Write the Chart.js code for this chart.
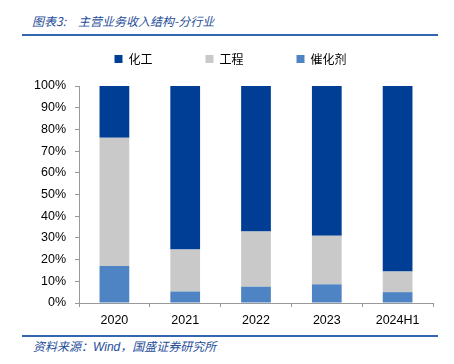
<!DOCTYPE html>
<html>
<head>
<meta charset="utf-8">
<script src="https://cdn.jsdelivr.net/npm/chart.js@4.4.1/dist/chart.umd.min.js"></script>
<style>
  body { margin: 0; width: 454px; height: 364px; background: #fff; position: relative; overflow: hidden; }
  .title { position: absolute; left: 32px; top: 12px; font: italic 12px "Noto Sans CJK SC", sans-serif; color: #1f4e99; white-space: pre; }
  .rule { position: absolute; left: 22px; width: 416px; background: #3366b0; }
  .source { position: absolute; left: 33px; top: 337px; font: italic 12px "Noto Sans CJK SC", sans-serif; color: #1f4e99; white-space: pre; }
  #wrap { position: absolute; left: 0; top: 0; width: 454px; height: 334px; }
</style>
</head>
<body>
<div class="title">图表3:<span style="margin-left:12px">主营业务收入结构-分行业</span></div>
<div class="rule" style="top:34px;height:2px;"></div>
<div id="wrap"><canvas id="chart"></canvas></div>
<div class="rule" style="top:335px;height:2px;"></div>
<div class="source">资料来源：<span style="font-family:'Liberation Sans'">Wind</span>，国盛证券研究所</div>
<script>
const years = ['2020', '2021', '2022', '2023', '2024H1'];
const chemical = [23.8, 75.3, 67.0, 69.0, 85.5];
const engineering = [59.2, 19.4, 25.5, 22.4, 9.5];
const catalyst = [17.0, 5.3, 7.5, 8.6, 5.0];

// nudge the legend so it sits where the original one does
const legendNudge = {
  id: 'legendNudge',
  beforeLayout(chart) {
    const legend = chart.legend;
    if (legend && !legend._nudged) {
      const fit = legend.fit;
      legend.fit = function () {
        fit.call(this);
        this.height += 11;
      };
      legend._nudged = true;
    }
  },
  afterLayout(chart) {
    chart.legend.left += 14;
    chart.legend.right += 14;
  }
};

const tickFont = { family: 'Liberation Sans', size: 12.5 };

new Chart(document.getElementById('chart'), {
  type: 'bar',
  data: {
    labels: years,
    datasets: [
      // stacked bottom to top
      { label: '催化剂', data: catalyst, backgroundColor: '#4f84c4' },
      { label: '工程', data: engineering, backgroundColor: '#c9c9c9' },
      { label: '化工', data: chemical, backgroundColor: '#003e95' }
    ]
  },
  options: {
    responsive: true,
    maintainAspectRatio: false,
    animation: false,
    layout: { padding: { left: 0, right: 21, top: 0, bottom: 0 } },
    datasets: { bar: { categoryPercentage: 0.42, barPercentage: 1 } },
    plugins: {
      legend: {
        reverse: true,
        labels: {
          boxWidth: 8,
          boxHeight: 8,
          padding: 53,
          color: '#000',
          font: { family: 'Noto Sans CJK SC', size: 12 }
        }
      },
      tooltip: { enabled: false }
    },
    scales: {
      x: {
        stacked: true,
        grid: { offset: true, drawOnChartArea: false, tickLength: 4, color: '#999' },
        border: { color: '#999' },
        ticks: { color: '#000', font: tickFont, padding: 6 }
      },
      y: {
        stacked: true,
        min: 0,
        max: 100,
        afterFit(scale) { scale.width = 79; },
        grid: { drawOnChartArea: false, tickLength: 4, color: '#999' },
        border: { color: '#999' },
        ticks: {
          stepSize: 10,
          color: '#000',
          font: tickFont,
          padding: 9,
          callback: v => v + '%'
        }
      }
    }
  },
  plugins: [legendNudge]
});
</script>
</body>
</html>
